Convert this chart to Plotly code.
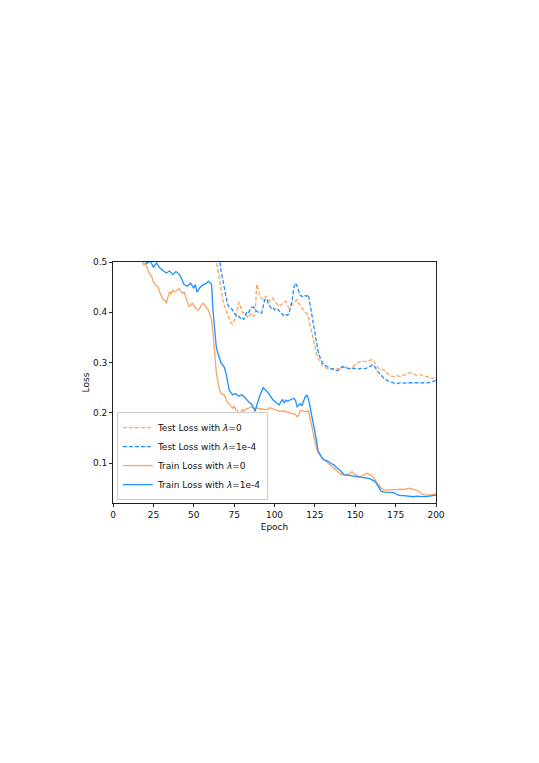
import plotly.graph_objects as go

# ---- data ----
train0_epoch = [0, 5, 10, 15, 18, 19, 20, 21, 22, 24, 25, 26, 28, 29, 30, 31, 32, 33, 34, 35, 36, 37, 38, 40, 41, 42, 43, 44, 45, 46, 47, 48, 49, 50, 51, 52, 53, 54, 55, 56, 57, 58, 59, 60, 61, 62, 63, 64, 65, 66, 67, 68, 69, 70, 71, 72, 73, 74, 75, 76, 77, 78, 79, 80, 81, 82, 84, 86, 88, 89, 91, 93, 95, 97, 99, 101, 103, 105, 107, 109, 111, 113, 114, 115, 116, 117, 118, 120, 121, 122, 123, 124, 125, 126, 127, 128, 129, 130, 131, 133, 135, 137, 139, 141, 143, 145, 147, 148, 150, 152, 154, 156, 157, 158, 160, 162, 164, 166, 168, 170, 172, 174, 176, 178, 180, 182, 184, 186, 188, 190, 192, 194, 196, 198, 200]
train0_loss = [1.5, 0.85, 0.64, 0.54, 0.505, 0.494, 0.498, 0.487, 0.48, 0.471, 0.46, 0.455, 0.45, 0.44, 0.432, 0.425, 0.424, 0.418, 0.43, 0.441, 0.436, 0.445, 0.44, 0.444, 0.447, 0.441, 0.438, 0.44, 0.431, 0.425, 0.412, 0.413, 0.418, 0.414, 0.41, 0.405, 0.404, 0.41, 0.416, 0.418, 0.412, 0.408, 0.405, 0.395, 0.385, 0.355, 0.315, 0.28, 0.262, 0.245, 0.238, 0.236, 0.235, 0.226, 0.22, 0.218, 0.212, 0.209, 0.213, 0.206, 0.205, 0.196, 0.2, 0.206, 0.203, 0.207, 0.209, 0.212, 0.208, 0.21, 0.208, 0.207, 0.206, 0.21, 0.208, 0.205, 0.203, 0.204, 0.202, 0.2, 0.199, 0.197, 0.192, 0.196, 0.205, 0.204, 0.203, 0.202, 0.205, 0.19, 0.172, 0.157, 0.14, 0.13, 0.12, 0.115, 0.112, 0.108, 0.106, 0.1, 0.094, 0.09, 0.083, 0.078, 0.077, 0.076, 0.08, 0.083, 0.077, 0.073, 0.074, 0.078, 0.08, 0.079, 0.075, 0.068, 0.06, 0.05, 0.046, 0.046, 0.046, 0.046, 0.047, 0.048, 0.047, 0.049, 0.05, 0.047, 0.046, 0.042, 0.037, 0.036, 0.036, 0.037, 0.039]

train4_epoch = [0, 5, 10, 15, 19, 21, 23, 25, 27, 29, 31, 33, 35, 37, 39, 41, 42, 44, 46, 48, 50, 51, 52, 54, 56, 58, 59, 61, 62, 63, 64, 65, 66, 67, 68, 69, 70, 71, 72, 73, 74, 76, 78, 80, 82, 84, 86, 87, 88, 89, 90, 91, 93, 94, 95, 96, 97, 99, 101, 103, 104, 105, 106, 107, 108, 110, 112, 113, 114, 115, 116, 117, 118, 119, 120, 121, 122, 123, 124, 125, 126, 127, 128, 129, 130, 131, 133, 135, 137, 138, 139, 140, 141, 142, 143, 145, 147, 149, 151, 153, 155, 157, 159, 160, 161, 162, 163, 164, 165, 166, 168, 170, 172, 174, 176, 178, 180, 182, 184, 186, 188, 190, 192, 194, 196, 198, 200]
train4_loss = [1.6, 0.9, 0.68, 0.56, 0.51, 0.497, 0.502, 0.49, 0.498, 0.488, 0.483, 0.478, 0.482, 0.475, 0.481, 0.476, 0.47, 0.455, 0.452, 0.458, 0.448, 0.455, 0.44, 0.45, 0.455, 0.458, 0.462, 0.456, 0.4, 0.355, 0.33, 0.318, 0.308, 0.298, 0.295, 0.29, 0.278, 0.262, 0.245, 0.24, 0.236, 0.238, 0.233, 0.236, 0.228, 0.222, 0.216, 0.21, 0.203, 0.215, 0.226, 0.235, 0.25, 0.247, 0.245, 0.24, 0.235, 0.226, 0.22, 0.216, 0.222, 0.226, 0.22, 0.225, 0.223, 0.226, 0.229, 0.225, 0.212, 0.215, 0.218, 0.214, 0.222, 0.232, 0.235, 0.228, 0.212, 0.195, 0.18, 0.166, 0.145, 0.124, 0.118, 0.115, 0.108, 0.106, 0.104, 0.099, 0.096, 0.092, 0.09, 0.087, 0.084, 0.08, 0.077, 0.076, 0.075, 0.074, 0.073, 0.072, 0.071, 0.07, 0.069, 0.067, 0.065, 0.064, 0.06, 0.055, 0.049, 0.044, 0.042, 0.042, 0.041, 0.041, 0.037, 0.035, 0.035, 0.034, 0.034, 0.033, 0.034, 0.033, 0.033, 0.033, 0.034, 0.034, 0.036]

test0_epoch = [0, 20, 40, 55, 62, 64, 65, 66, 67, 68, 69, 70, 71, 72, 73, 74, 75, 76, 77, 78, 79, 80, 81, 82, 83, 84, 85, 86, 87, 88, 89, 90, 91, 92, 93, 94, 95, 96, 97, 98, 99, 100, 101, 102, 103, 104, 105, 106, 107, 108, 109, 110, 111, 112, 113, 114, 115, 116, 117, 118, 119, 120, 121, 122, 123, 124, 125, 126, 127, 128, 129, 130, 132, 134, 136, 138, 140, 142, 144, 146, 148, 150, 152, 154, 156, 158, 160, 161, 162, 164, 166, 168, 170, 172, 174, 176, 178, 180, 182, 184, 186, 188, 190, 192, 194, 196, 198, 200]
test0_loss = [1.8, 1.0, 0.78, 0.63, 0.54, 0.5, 0.478, 0.458, 0.438, 0.425, 0.412, 0.404, 0.395, 0.385, 0.379, 0.376, 0.382, 0.392, 0.41, 0.42, 0.41, 0.4, 0.398, 0.398, 0.392, 0.389, 0.395, 0.398, 0.392, 0.395, 0.456, 0.445, 0.433, 0.428, 0.425, 0.43, 0.432, 0.425, 0.422, 0.426, 0.428, 0.423, 0.418, 0.415, 0.412, 0.415, 0.418, 0.42, 0.422, 0.415, 0.408, 0.412, 0.415, 0.418, 0.422, 0.425, 0.418, 0.412, 0.408, 0.405, 0.4, 0.398, 0.39, 0.375, 0.36, 0.345, 0.332, 0.318, 0.31, 0.303, 0.298, 0.293, 0.289, 0.288, 0.287, 0.288, 0.287, 0.29, 0.291, 0.287, 0.289, 0.297, 0.3, 0.303, 0.302, 0.304, 0.305, 0.306, 0.3, 0.29, 0.286, 0.285, 0.278, 0.273, 0.272, 0.274, 0.272, 0.275, 0.278, 0.28, 0.277, 0.275, 0.276, 0.274, 0.272, 0.27, 0.268, 0.273]

test4_epoch = [0, 20, 40, 55, 62, 65, 66, 67, 68, 69, 70, 71, 72, 73, 74, 75, 76, 77, 78, 79, 80, 81, 82, 83, 84, 85, 86, 87, 88, 89, 90, 91, 92, 93, 94, 95, 96, 97, 98, 99, 100, 101, 102, 103, 104, 105, 106, 107, 108, 109, 110, 111, 112, 113, 114, 115, 116, 117, 118, 119, 120, 121, 122, 123, 124, 125, 126, 127, 128, 129, 130, 131, 133, 135, 137, 139, 140, 142, 144, 146, 148, 150, 152, 154, 156, 158, 160, 161, 162, 164, 166, 168, 170, 172, 174, 176, 178, 180, 182, 184, 186, 188, 190, 192, 194, 196, 198, 200]
test4_loss = [1.8, 1.0, 0.8, 0.65, 0.56, 0.515, 0.505, 0.48, 0.462, 0.445, 0.43, 0.415, 0.41, 0.408, 0.405, 0.398, 0.393, 0.39, 0.392, 0.388, 0.39, 0.386, 0.394, 0.402, 0.4, 0.404, 0.41, 0.41, 0.405, 0.402, 0.4, 0.398, 0.398, 0.41, 0.425, 0.427, 0.418, 0.412, 0.408, 0.41, 0.405, 0.408, 0.406, 0.402, 0.398, 0.395, 0.392, 0.395, 0.394, 0.398, 0.41, 0.425, 0.45, 0.458, 0.452, 0.44, 0.433, 0.432, 0.43, 0.433, 0.432, 0.435, 0.415, 0.395, 0.378, 0.355, 0.338, 0.322, 0.312, 0.304, 0.298, 0.295, 0.291, 0.288, 0.286, 0.284, 0.286, 0.292, 0.29, 0.288, 0.289, 0.288, 0.287, 0.289, 0.288, 0.29, 0.294, 0.296, 0.292, 0.282, 0.275, 0.268, 0.264, 0.261, 0.259, 0.258, 0.26, 0.259, 0.26, 0.26, 0.259, 0.26, 0.259, 0.26, 0.259, 0.26, 0.262, 0.265]

x_ticks = [0, 25, 50, 75, 100, 125, 150, 175, 200]
y_ticks = [0.1, 0.2, 0.3, 0.4, 0.5]
y_tick_labels = ["0.1", "0.2", "0.3", "0.4", "0.5"]

ORANGE = "#F9A365"
BLUE = "#1E90FF"
FONT = "DejaVu Sans"

fig = go.Figure()
fig.add_trace(go.Scatter(x=test0_epoch, y=test0_loss, mode="lines",
                         name="Test Loss with <i>λ</i>=0",
                         line=dict(color=ORANGE, width=1.3, dash="4px,2px")))
fig.add_trace(go.Scatter(x=test4_epoch, y=test4_loss, mode="lines",
                         name="Test Loss with <i>λ</i>=1e-4",
                         line=dict(color=BLUE, width=1.3, dash="4px,2px")))
fig.add_trace(go.Scatter(x=train0_epoch, y=train0_loss, mode="lines",
                         name="Train Loss with <i>λ</i>=0",
                         line=dict(color=ORANGE, width=1.3)))
fig.add_trace(go.Scatter(x=train4_epoch, y=train4_loss, mode="lines",
                         name="Train Loss with <i>λ</i>=1e-4",
                         line=dict(color=BLUE, width=1.3)))

axis_common = dict(showgrid=False, zeroline=False, showline=True, mirror=True,
                   linecolor="#222", linewidth=0.8, ticks="outside", ticklen=3,
                   tickwidth=0.8, tickcolor="#222", automargin=False,
                   tickfont=dict(family=FONT, size=9, color="#111"))

# page body adds an 8px offset, so the figure is sized/margined accordingly
fig.update_layout(
    width=531, height=755,
    margin=dict(l=105, r=103, t=254, b=260),
    paper_bgcolor="white", plot_bgcolor="white",
    font=dict(family=FONT, size=9, color="#111"),
    xaxis=dict(range=[0, 200], tickvals=x_ticks,
               title=dict(text="Epoch", font=dict(family=FONT, size=9), standoff=4),
               **axis_common),
    yaxis=dict(range=[0.0205, 0.5], tickvals=y_ticks, ticktext=y_tick_labels,
               title=dict(text="Loss", font=dict(family=FONT, size=9), standoff=1),
               **axis_common),
    legend=dict(x=0.012, y=0.012, xanchor="left", yanchor="bottom",
                bgcolor="rgba(255,255,255,0.85)", bordercolor="#cccccc", borderwidth=1,
                font=dict(family=FONT, size=9, color="#111"),
                itemwidth=30, tracegroupgap=0),
    showlegend=True,
)

fig.write_html("out.html")
